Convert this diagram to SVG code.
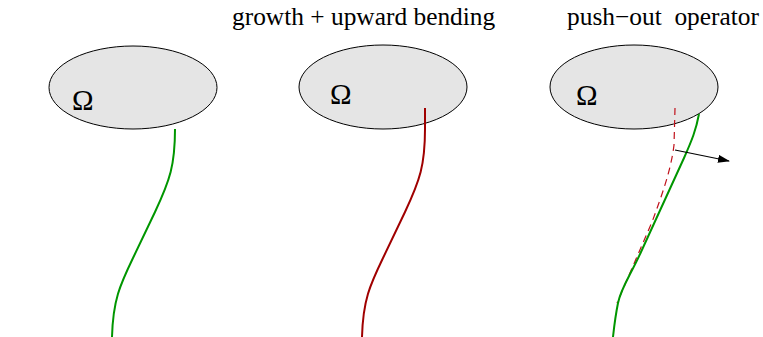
<svg xmlns="http://www.w3.org/2000/svg" width="763" height="337" viewBox="0 0 763 337">
<defs>
<style>
.dom{fill:#e5e5e5;stroke:#000;stroke-width:1}
.lbl{font-family:"Liberation Serif","Times New Roman",serif;fill:#000}
.om{font-size:29px}
.ttl{font-size:25.4px;white-space:pre}
.g{fill:none;stroke:#009600;stroke-width:2}
.r{fill:none;stroke:#a00000;stroke-width:2}
.rd{fill:none;stroke:#c0101a;stroke-width:1.2;stroke-dasharray:7 5}
.ar{fill:none;stroke:#000;stroke-width:1.2}
</style>
<marker id="ah" markerWidth="12" markerHeight="8" refX="11" refY="4" orient="auto" markerUnits="userSpaceOnUse">
<path d="M0,0 L12,4 L0,8 Z" fill="#000"/>
</marker>
</defs>
<rect width="763" height="337" fill="#fff"/>
<g id="title2"><text class="lbl ttl" x="232" y="25">growth + upward bending</text></g>
<g id="title3"><text class="lbl ttl" x="567" y="25" xml:space="preserve">push−out  operator</text></g>
<g id="domain1">
<ellipse class="dom" cx="133" cy="87.5" rx="84" ry="41.5"/>
<text class="lbl om" x="72" y="110">Ω</text>
</g>
<g id="domain2">
<ellipse class="dom" cx="383" cy="87" rx="84" ry="42"/>
<text class="lbl om" x="330" y="104">Ω</text>
</g>
<g id="domain3">
<ellipse class="dom" cx="634" cy="87" rx="84" ry="42"/>
<text class="lbl om" x="576" y="105">Ω</text>
</g>
<g id="connectors">
<path id="curve1" class="g" d="M175,129 C175,165 170,180 155,212 L133,258 C120,285 113,300 112,337"/>
<path id="curve2" class="r" d="M425,108 L425,129 C425,165 420,180 405,212 L383,258 C370,285 363,300 362,337"/>
<path id="curve3" class="rd" d="M675,108 L674,145 C671,170 662,195 652,222 L617,303"/>
<path id="curve4" class="g" d="M699,114 C696,130 692,140 684,158 L641,252 C630,276 621,288 618,303 C615,318 614,328 613,337"/>
<path id="arrow" class="ar" d="M675,150 L729,161" marker-end="url(#ah)"/>
</g>
</svg>
